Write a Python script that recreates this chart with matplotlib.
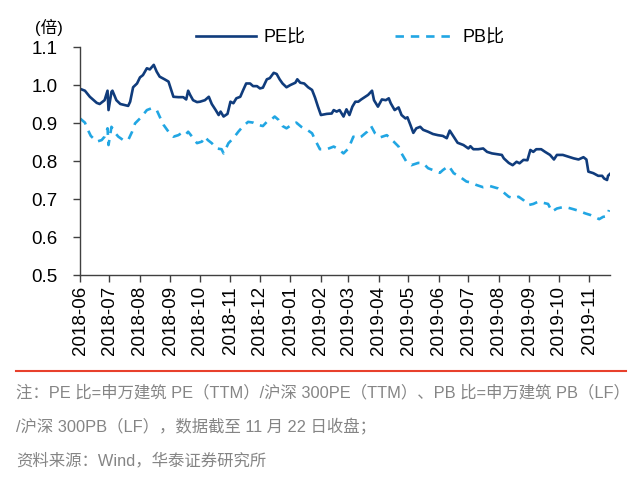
import matplotlib
matplotlib.use("Agg")
import matplotlib.pyplot as plt
import matplotlib.dates as mdates
from matplotlib.ticker import FormatStrFormatter
import pandas as pd
import numpy as np

start_date = "2018-06-01"
end_date = "2019-11-22"

pe_days = [0, 5, 10, 17, 20, 25, 28, 29, 32, 33,
           37, 41, 46, 49, 51, 54, 58, 61, 64, 68,
           71, 75, 78, 81, 86, 90, 95, 100, 105, 108,
           110, 112, 115, 119, 122, 127, 131, 134, 138, 141,
           143, 146, 150, 153, 156, 159, 163, 166, 169, 173,
           176, 180, 183, 186, 190, 193, 197, 200, 203, 206,
           210, 214, 219, 221, 224, 228, 232, 236, 239, 242,
           245, 251, 256, 258, 261, 264, 268, 271, 274, 277,
           280, 283, 286, 290, 293, 297, 299, 303, 307, 311,
           314, 316, 320, 324, 327, 331, 333, 336, 339, 342,
           346, 349, 354, 359, 364, 369, 373, 376, 380, 384,
           390, 395, 397, 400, 405, 410, 414, 419, 424, 429,
           431, 436, 440, 444, 447, 451, 455, 458, 461, 464,
           469, 473, 478, 482, 485, 491, 497, 502, 507, 512,
           515, 517, 522, 527, 531, 533, 536, 537, 539]
pe_ratio = [0.990, 0.985, 0.969, 0.953, 0.950, 0.960, 0.985, 0.934, 0.982, 0.985,
            0.960, 0.950, 0.947, 0.945, 0.956, 0.994, 1.004, 1.020, 1.026, 1.044,
            1.041, 1.053, 1.035, 1.022, 1.015, 1.009, 0.969, 0.968, 0.968, 0.962,
            0.985, 0.974, 0.960, 0.955, 0.956, 0.960, 0.969, 0.950, 0.934, 0.921,
            0.930, 0.917, 0.924, 0.956, 0.952, 0.965, 0.969, 0.987, 1.004, 1.004,
            0.997, 0.997, 0.991, 0.993, 1.015, 1.018, 1.032, 1.029, 1.015, 1.004,
            0.994, 1.000, 1.006, 1.015, 1.006, 1.004, 0.994, 0.987, 0.967, 0.943,
            0.921, 0.924, 0.925, 0.934, 0.930, 0.934, 0.917, 0.936, 0.921, 0.943,
            0.956, 0.956, 0.962, 0.969, 0.974, 0.985, 0.960, 0.943, 0.962, 0.960,
            0.965, 0.952, 0.934, 0.941, 0.921, 0.912, 0.915, 0.895, 0.874, 0.886,
            0.890, 0.882, 0.877, 0.871, 0.868, 0.866, 0.860, 0.880, 0.864, 0.848,
            0.842, 0.833, 0.839, 0.831, 0.831, 0.833, 0.824, 0.820, 0.818, 0.816,
            0.807, 0.795, 0.789, 0.798, 0.794, 0.803, 0.802, 0.829, 0.824, 0.831,
            0.831, 0.824, 0.816, 0.804, 0.816, 0.816, 0.811, 0.807, 0.804, 0.810,
            0.804, 0.772, 0.768, 0.761, 0.761, 0.754, 0.750, 0.761, 0.766]

pb_days = [0, 5, 8, 11, 17, 22, 25, 28, 29, 32,
           36, 39, 44, 49, 53, 56, 61, 64, 68, 73,
           78, 81, 85, 90, 95, 100, 103, 107, 110, 114,
           119, 124, 127, 130, 134, 139, 144, 146, 151, 156,
           161, 166, 171, 176, 181, 186, 190, 195, 198, 202,
           206, 210, 215, 220, 225, 231, 236, 240, 244, 251,
           258, 263, 268, 273, 278, 283, 286, 292, 296, 300,
           305, 312, 319, 324, 327, 332, 337, 344, 349, 354,
           359, 366, 369, 375, 380, 386, 393, 398, 403, 410,
           417, 425, 430, 436, 441, 446, 451, 456, 461, 466,
           471, 476, 480, 485, 490, 495, 502, 507, 514, 519,
           524, 528, 532, 536, 538]
pb_ratio = [0.912, 0.901, 0.882, 0.866, 0.851, 0.855, 0.864, 0.886, 0.842, 0.890,
            0.873, 0.864, 0.855, 0.855, 0.877, 0.899, 0.912, 0.921, 0.934, 0.939,
            0.934, 0.917, 0.895, 0.877, 0.864, 0.868, 0.873, 0.868, 0.877, 0.864,
            0.847, 0.851, 0.864, 0.855, 0.847, 0.833, 0.831, 0.820, 0.847, 0.860,
            0.877, 0.892, 0.903, 0.901, 0.895, 0.892, 0.903, 0.910, 0.917, 0.908,
            0.892, 0.886, 0.895, 0.901, 0.890, 0.882, 0.873, 0.851, 0.831, 0.831,
            0.838, 0.831, 0.820, 0.833, 0.864, 0.860, 0.864, 0.877, 0.892, 0.873,
            0.862, 0.868, 0.851, 0.838, 0.820, 0.798, 0.789, 0.795, 0.794, 0.781,
            0.776, 0.769, 0.776, 0.787, 0.768, 0.759, 0.746, 0.743, 0.737, 0.731,
            0.734, 0.728, 0.719, 0.706, 0.702, 0.706, 0.697, 0.684, 0.687, 0.693,
            0.690, 0.687, 0.667, 0.675, 0.678, 0.678, 0.673, 0.669, 0.662, 0.658,
            0.652, 0.647, 0.653, 0.655, 0.671]

series_labels = ["PE比", "PB比"]
y_ticks = [0.5, 0.6, 0.7, 0.8, 0.9, 1.0, 1.1]
unit_label = "(倍)"
note_lines = [
    "注：PE 比=申万建筑 PE（TTM）/沪深 300PE（TTM）、PB 比=申万建筑 PB（LF）",
    "/沪深 300PB（LF），数据截至 11 月 22 日收盘；",
    "资料来源：Wind，华泰证券研究所",
]

FAM = ["Liberation Sans", "Noto Sans CJK SC", "DejaVu Sans"]
plt.rcParams["font.family"] = FAM

t0 = pd.Timestamp(start_date)
pe_x = t0 + pd.to_timedelta(pe_days, unit="D")
pb_x = t0 + pd.to_timedelta(pb_days, unit="D")

fig = plt.figure(figsize=(6.4, 4.78), dpi=100)
ax = fig.add_axes([80 / 640, 1 - 275 / 478, 530 / 640, 228 / 478])

ax.plot(pe_x, pe_ratio, color="#103c7c", lw=1.9, label=series_labels[0])
ax.plot(pb_x, pb_ratio, color="#21a6e3", lw=1.9, dashes=(3.2, 2.6),
        label=series_labels[1])

ax.set_xlim(t0, pd.Timestamp(end_date))
ax.set_ylim(y_ticks[0], y_ticks[-1])
ax.set_yticks(y_ticks)
ax.yaxis.set_major_formatter(FormatStrFormatter("%.1f"))
ax.xaxis.set_major_locator(mdates.MonthLocator())
ax.xaxis.set_major_formatter(mdates.DateFormatter("%Y-%m"))
for lab in ax.get_xticklabels():
    lab.set_rotation(90)

for s in ["top", "right"]:
    ax.spines[s].set_visible(False)
for s in ["left", "bottom"]:
    ax.spines[s].set_color("#404040")
    ax.spines[s].set_linewidth(1.0)
ax.tick_params(axis="both", colors="#404040", labelcolor="black",
               labelsize=13.5, direction="out", length=5, width=1.0)
ax.tick_params(axis="x", pad=3)
ax.tick_params(axis="y", pad=11)

leg = ax.legend(loc="center", bbox_to_anchor=(0.51, 1.04), ncol=2,
                frameon=False, fontsize=13, handlelength=3.3,
                handletextpad=0.4, columnspacing=5.0, borderaxespad=0)

fig.text(35 / 640, 1 - 27 / 478, unit_label, fontsize=12, va="center",
         ha="left")

fig.add_artist(plt.Line2D([16 / 640, 626 / 640], [1 - 371 / 478, 1 - 371 / 478],
                          color="#e8402c", lw=1.5))
for i, (line, yy) in enumerate(zip(note_lines, [393, 427, 460])):
    fig.text(16 / 640, 1 - yy / 478, line, fontsize=11.8, color="#858585",
             va="center", ha="left")

fig.savefig("out.png", dpi=100)
